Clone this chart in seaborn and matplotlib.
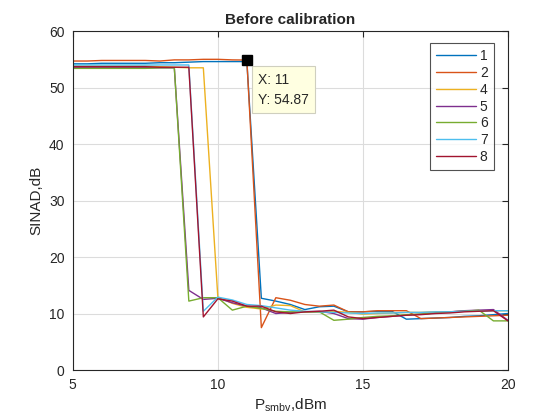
import pandas as pd
import matplotlib
matplotlib.use('Agg')
import matplotlib.pyplot as plt
import seaborn as sns

# power sweep (dBm)
x_dbm = [5.0, 5.5, 6.0, 6.5, 7.0, 7.5, 8.0, 8.5, 9.0, 9.5, 10.0, 10.5, 11.0, 11.5,
         12.0, 12.5, 13.0, 13.5, 14.0, 14.5, 15.0, 15.5, 16.0, 16.5, 17.0, 17.5,
         18.0, 18.5, 19.0, 19.5, 20.0]

s1 = [54.2, 54.2, 54.3, 54.3, 54.3, 54.3, 54.4, 54.4, 54.5, 54.6, 54.6, 54.6, 54.6, 12.7,
      12.2, 11.6, 10.7, 11.2, 11.3, 10.3, 10.3, 10.4, 10.4, 9.0, 9.1, 9.2,
      9.3, 9.5, 9.6, 9.8, 10.0]
s2 = [54.7, 54.7, 54.8, 54.8, 54.8, 54.8, 54.7, 54.9, 54.9, 55.0, 55.0, 54.9, 54.87, 7.5,
      12.8, 12.35, 11.6, 11.3, 11.5, 10.3, 10.3, 10.5, 10.5, 10.5, 9.1, 9.2,
      9.3, 9.4, 9.5, 9.6, 9.7]
s4 = [53.8, 53.8, 53.8, 53.8, 53.8, 53.8, 53.7, 53.6, 53.5, 53.5, 12.9, 11.8, 11.1, 10.8,
      11.5, 11.4, 10.3, 10.2, 10.4, 10.2, 9.9, 10.0, 10.1, 10.2, 10.2, 10.3,
      10.3, 10.4, 10.4, 10.5, 10.5]
s5 = [53.5, 53.5, 53.5, 53.5, 53.5, 53.5, 53.5, 53.5, 14.1, 12.5, 12.7, 11.9, 11.3, 11.0,
      10.0, 10.2, 10.3, 10.4, 10.0, 9.1, 9.0, 9.3, 9.5, 9.7, 9.9, 10.1,
      10.3, 10.5, 10.6, 10.7, 8.8]
s6 = [53.4, 53.4, 53.4, 53.4, 53.4, 53.4, 53.5, 53.5, 12.2, 12.8, 12.8, 10.6, 11.3, 10.9,
      10.4, 10.3, 10.3, 10.3, 8.8, 9.0, 9.3, 9.5, 9.6, 9.8, 9.9, 10.1,
      10.3, 10.4, 10.6, 8.7, 8.7]
s7 = [54.0, 54.0, 54.0, 54.0, 54.0, 54.0, 54.0, 54.0, 54.0, 10.4, 12.9, 12.4, 11.6, 11.4,
      11.0, 10.6, 10.4, 10.3, 10.2, 10.1, 10.0, 10.1, 10.1, 10.2, 10.2, 10.3,
      10.3, 10.4, 10.4, 10.5, 10.5]
s8 = [53.7, 53.7, 53.7, 53.7, 53.7, 53.7, 53.6, 53.6, 53.6, 9.4, 12.6, 12.2, 11.3, 11.3,
      10.3, 10.0, 10.3, 10.4, 10.6, 9.4, 9.1, 9.3, 9.5, 9.7, 9.8, 10.0,
      10.1, 10.3, 10.4, 10.5, 8.7]

labels = ['1', '2', '4', '5', '6', '7', '8']
series = [s1, s2, s4, s5, s6, s7, s8]
colors = ['#0072BD', '#D95319', '#EDB120', '#7E2F8E', '#77AC30', '#4DBEEE', '#A2142F']

# data tip on trace "2"
tip_idx = 12
tip_x = x_dbm[tip_idx]
tip_y = s2[tip_idx]

rows = []
for lab, ys in zip(labels, series):
    for xv, yv in zip(x_dbm, ys):
        rows.append({'P': xv, 'SINAD': yv, 'ch': lab})
df = pd.DataFrame(rows)

sns.set_style('white')
plt.rcParams['font.family'] = ['Liberation Sans', 'DejaVu Sans']
plt.rcParams['mathtext.fontset'] = 'custom'
plt.rcParams['mathtext.rm'] = 'Liberation Sans'

fig = plt.figure(figsize=(5.6, 4.2), dpi=100)
ax = fig.add_axes([0.13, 0.119, 0.777, 0.807])

sns.lineplot(data=df, x='P', y='SINAD', hue='ch', hue_order=labels,
             palette=colors, linewidth=1.0, ax=ax, legend=False, sort=False)

ax.set_xlim(5, 20)
ax.set_ylim(0, 60)
ax.set_xticks([5, 10, 15, 20])
ax.set_yticks([0, 10, 20, 30, 40, 50, 60])
ax.grid(True, color='#dcdcdc', linewidth=0.8)
ax.set_axisbelow(True)
for sp in ax.spines.values():
    sp.set_color('#262626')
    sp.set_linewidth(0.8)
ax.tick_params(direction='in', length=4, width=0.8, top=True, right=True,
               labelsize=10, colors='#262626', pad=6)

ax.set_title('Before calibration', fontsize=11, fontweight='bold', pad=5)
ax.set_xlabel(r'P$_{\rm smbv}$,dBm', fontsize=11, color='#262626', labelpad=3)
ax.set_ylabel('SINAD,dB', fontsize=11, color='#262626', labelpad=4)

handles = [plt.Line2D([], [], color=c, linewidth=1.0) for c in colors]
leg = ax.legend(handles, labels, loc='upper right', bbox_to_anchor=(0.968, 0.965),
                borderaxespad=0, fontsize=10, frameon=True, fancybox=False,
                handlelength=2.9, handletextpad=0.25, labelspacing=0.2,
                borderpad=0.45)
leg.get_frame().set_edgecolor('#262626')
leg.get_frame().set_linewidth(0.8)

ax.plot([tip_x], [tip_y], marker='s', color='black', markersize=7.5, zorder=5)
ax.annotate(f'X: {tip_x:g}\nY: {tip_y:.2f}', xy=(tip_x, tip_y), xytext=(8, -9),
            textcoords='offset points', ha='left', va='top', fontsize=10,
            linespacing=1.6,
            bbox=dict(boxstyle='square,pad=0.45', fc='#FFFFE1', ec='#cfcfbf', lw=0.8))

fig.savefig('out.png', dpi=100, facecolor='white')
